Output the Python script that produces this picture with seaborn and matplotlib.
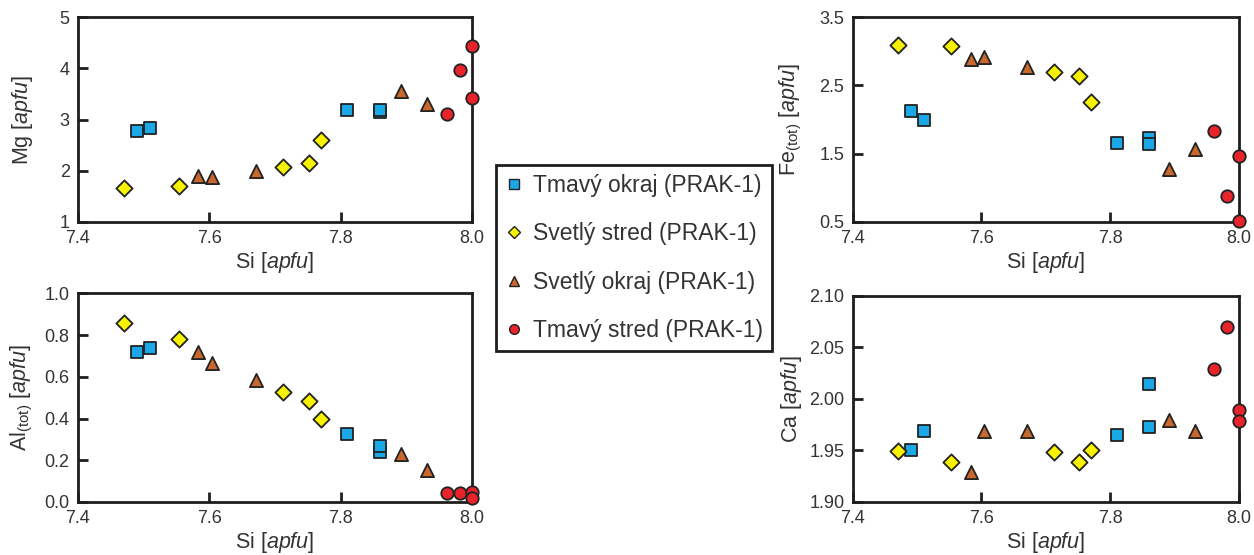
#!/usr/bin/env python
# -*- coding: utf-8 -*-
"""
Amphibole chemistry (PRAK-1): Mg, Fe, Al, Ca vs Si, four panels + shared legend.
"""

import matplotlib.pyplot as plt
import seaborn as sns
import pandas as pd
from matplotlib.lines import Line2D
from matplotlib.ticker import FormatStrFormatter

# data (apfu)
groups = ["Tmavý okraj (PRAK-1)", "Svetlý stred (PRAK-1)",
          "Svetlý okraj (PRAK-1)", "Tmavý stred (PRAK-1)"]

si_tmavy_okraj = [7.49, 7.51, 7.81, 7.86, 7.86]
mg_tmavy_okraj = [2.77, 2.84, 3.19, 3.15, 3.18]
fe_tmavy_okraj = [2.13, 1.99, 1.66, 1.73, 1.64]
al_tmavy_okraj = [0.72, 0.738, 0.326, 0.24, 0.27]
ca_tmavy_okraj = [1.950, 1.969, 1.965, 2.014, 1.973]

si_svetly_stred = [7.47, 7.553, 7.712, 7.752, 7.77]
mg_svetly_stred = [1.66, 1.70, 2.08, 2.15, 2.61]
fe_svetly_stred = [3.10, 3.08, 2.70, 2.64, 2.26]
al_svetly_stred = [0.856, 0.782, 0.526, 0.486, 0.397]
ca_svetly_stred = [1.949, 1.939, 1.948, 1.939, 1.950]

si_svetly_okraj = [7.583, 7.604, 7.671, 7.892, 7.932]
mg_svetly_okraj = [1.89, 1.88, 2.00, 3.55, 3.31]
fe_svetly_okraj = [2.89, 2.91, 2.77, 1.28, 1.57]
al_svetly_okraj = [0.72, 0.664, 0.584, 0.232, 0.152]
ca_svetly_okraj = [1.929, 1.969, 1.969, 1.979, 1.969]

si_tmavy_stred = [7.961, 7.982, 8.0, 8.0]
mg_tmavy_stred = [3.10, 3.97, 4.43, 3.42]
fe_tmavy_stred = [1.83, 0.88, 1.46, 0.51]
al_tmavy_stred = [0.043, 0.043, 0.050, 0.021]
ca_tmavy_stred = [2.029, 2.070, 1.989, 1.978]

colors = {groups[0]: "#1aa9e6", groups[1]: "#f7f200",
          groups[2]: "#c8682f", groups[3]: "#e8232a"}
markers = {groups[0]: "s", groups[1]: "D", groups[2]: "^", groups[3]: "o"}
sizes = {"s": 82, "D": 68, "^": 90, "o": 80}

parts = []
for g, si, mg, fe, al, ca in [
        (groups[0], si_tmavy_okraj, mg_tmavy_okraj, fe_tmavy_okraj, al_tmavy_okraj, ca_tmavy_okraj),
        (groups[1], si_svetly_stred, mg_svetly_stred, fe_svetly_stred, al_svetly_stred, ca_svetly_stred),
        (groups[2], si_svetly_okraj, mg_svetly_okraj, fe_svetly_okraj, al_svetly_okraj, ca_svetly_okraj),
        (groups[3], si_tmavy_stred, mg_tmavy_stred, fe_tmavy_stred, al_tmavy_stred, ca_tmavy_stred)]:
    parts.append(pd.DataFrame({"group": g, "Si": si, "Mg": mg, "Fe": fe, "Al": al, "Ca": ca}))
df = pd.concat(parts, ignore_index=True)

# style
sns.set_theme(style="ticks")
plt.rcParams.update({
    'font.family': ['Liberation Sans', 'DejaVu Sans'],
    'mathtext.fontset': 'custom',
    'mathtext.rm': 'Liberation Sans',
    'mathtext.it': 'Liberation Sans:italic',
    'axes.edgecolor': '#1e1e1e',
    'axes.linewidth': 2.0,
})

fig = plt.figure(figsize=(12.54, 5.55), dpi=100)

# column, y label, axes rect, ylim, yticks, tick format, y label x position
panels = [
    ("Mg", r"Mg $\mathit{[apfu]}$", [0.0622, 0.600, 0.3143, 0.369], (1, 5), [1, 2, 3, 4, 5], "%d", -0.11),
    ("Fe", r"Fe$_{\mathrm{(tot)}}$ $\mathit{[apfu]}$", [0.680, 0.600, 0.308, 0.369], (0.5, 3.5), [0.5, 1.5, 2.5, 3.5], "%.1f", -0.125),
    ("Al", r"Al$_{\mathrm{(tot)}}$ $\mathit{[apfu]}$", [0.0622, 0.0955, 0.3143, 0.376], (0, 1.0), [0, 0.2, 0.4, 0.6, 0.8, 1.0], "%.1f", -0.11),
    ("Ca", r"Ca $\mathit{[apfu]}$", [0.680, 0.0955, 0.308, 0.372], (1.90, 2.10), [1.90, 1.95, 2.00, 2.05, 2.10], "%.2f", -0.125),
]

for col, ylab, rect, ylim, yticks, fmt, ylab_x in panels:
    ax = fig.add_axes(rect)
    for g in groups:
        sub = df[df["group"] == g]
        m = markers[g]
        sns.scatterplot(data=sub, x="Si", y=col, ax=ax, color=colors[g], marker=m,
                        s=sizes[m], edgecolor="#222222", linewidth=1.3,
                        legend=False, clip_on=False, zorder=3)
    ax.set_xlim(7.4, 8.0)
    ax.set_xticks([7.4, 7.6, 7.8, 8.0])
    ax.xaxis.set_major_formatter(FormatStrFormatter("%.1f"))
    ax.set_ylim(*ylim)
    ax.set_yticks(yticks)
    ax.yaxis.set_major_formatter(FormatStrFormatter(fmt))
    ax.tick_params(direction="in", length=7, width=2, labelsize=13,
                   labelcolor="#333333", color="#1e1e1e", pad=6)
    ax.set_xlabel(r"Si $\mathit{[apfu]}$", fontsize=15.5, color="#333333", labelpad=2)
    ax.set_ylabel(ylab, fontsize=15.5, color="#333333")
    ax.yaxis.set_label_coords(ylab_x, 0.5)

# shared legend in the middle
handles = [Line2D([], [], linestyle="none", marker=markers[g], markersize=7 if markers[g] != "D" else 6,
                  markerfacecolor=colors[g], markeredgecolor="#222222", markeredgewidth=1.0)
           for g in groups]
leg = fig.legend(handles, groups, loc="center", bbox_to_anchor=(0.5055, 0.535),
                 fontsize=16.5, labelspacing=1.1, handlelength=0.8, handletextpad=0.4,
                 borderpad=0.4, frameon=True, fancybox=False, framealpha=1,
                 labelcolor="#333333")
leg.get_frame().set_edgecolor("#1e1e1e")
leg.get_frame().set_linewidth(2.0)

plt.savefig("out.png", dpi=100)
plt.close()
